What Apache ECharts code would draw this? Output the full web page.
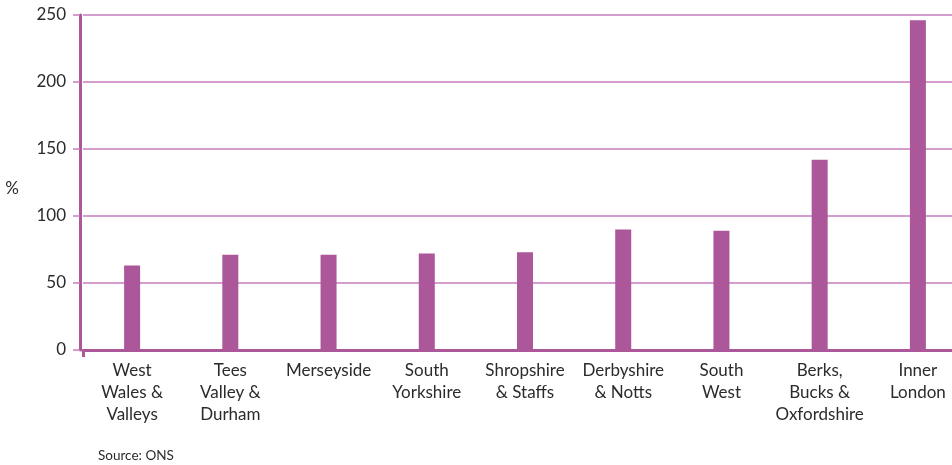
<!DOCTYPE html>
<html>
<head>
<meta charset="utf-8">
<script src="https://cdn.jsdelivr.net/npm/echarts@6/dist/echarts.min.js"></script>
<style>
  html, body { margin: 0; padding: 0; background: #fff; }
  #chart { width: 952px; height: 465px; }
</style>
</head>
<body>
<div id="chart"></div>
<script>
// Regions and their values (%)
var regions = [
  'West\nWales &\nValleys',
  'Tees\nValley &\nDurham',
  'Merseyside',
  'South\nYorkshire',
  'Shropshire\n& Staffs',
  'Derbyshire\n& Notts',
  'South\nWest',
  'Berks,\nBucks &\nOxfordshire',
  'Inner\nLondon'
];
var values = [63, 71, 71, 72, 73, 90, 89, 142, 246];
var yTicks = [0, 50, 100, 150, 200, 250];

var FONT = 'Lato, "Open Sans", sans-serif';
var TEXT = '#2b2b2b';
var PURPLE = '#ab5799';

var chart = echarts.init(document.getElementById('chart'), null, { renderer: 'canvas' });
chart.setOption({
  animation: false,
  backgroundColor: '#ffffff',
  title: {
    text: 'Source: ONS',
    left: 93,
    top: 444,
    textStyle: { fontFamily: FONT, fontSize: 13.5, fontWeight: 'normal', color: TEXT }
  },
  grid: {
    left: 83, top: 15, bottom: 115, width: 884,
    containLabel: false,
    outerBoundsMode: 'none'
  },
  xAxis: {
    type: 'category',
    data: regions,
    boundaryGap: true,
    axisLine: { show: true, lineStyle: { color: PURPLE, width: 3 } },
    axisTick: {
      show: true,
      inside: false,
      length: 7,
      interval: function (i) { return i === 0; },
      lineStyle: { color: PURPLE, width: 3 }
    },
    axisLabel: {
      interval: 0,
      margin: 10,
      fontFamily: FONT,
      fontSize: 17,
      lineHeight: 22,
      color: TEXT
    }
  },
  yAxis: {
    type: 'value',
    min: yTicks[0],
    max: yTicks[yTicks.length - 1],
    interval: 50,
    offset: 3,
    name: '%',
    nameLocation: 'middle',
    nameRotate: 0,
    nameGap: 61,
    nameTextStyle: {
      fontFamily: FONT, fontSize: 17, color: TEXT,
      verticalAlign: 'top', lineHeight: 12
    },
    axisLine: { show: true, lineStyle: { color: PURPLE, width: 3 } },
    axisTick: { show: true, length: 7, lineStyle: { color: '#c77cbc', width: 1.5 } },
    axisLabel: {
      margin: 14,
      fontFamily: FONT,
      fontSize: 17,
      color: TEXT
    },
    splitLine: { show: true, lineStyle: { color: '#c77cbc', width: 1.5 } }
  },
  series: [{
    type: 'bar',
    data: values,
    barWidth: 16,
    itemStyle: { color: PURPLE },
    z: 3
  }]
});
</script>
</body>
</html>
